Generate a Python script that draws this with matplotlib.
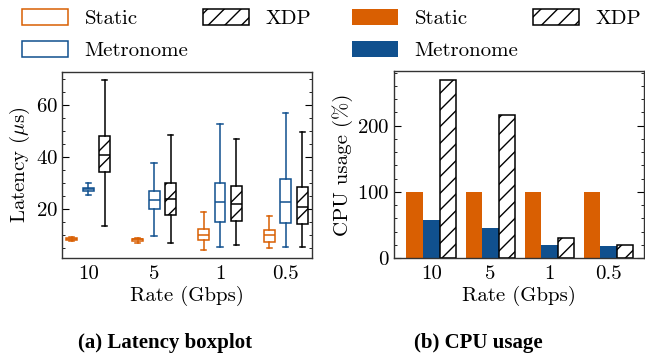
import matplotlib
matplotlib.use('Agg')
import matplotlib.pyplot as plt
from matplotlib.patches import Patch
from matplotlib.ticker import MultipleLocator

plt.rcParams['font.family'] = 'cmr10'
plt.rcParams['mathtext.fontset'] = 'cm'
plt.rcParams['axes.formatter.use_mathtext'] = True
plt.rcParams['hatch.linewidth'] = 1.0

rates = ['10', '5', '1', '0.5']
series = ['Static', 'Metronome', 'XDP']
orange = '#d95f02'
blue = '#10508e'

# latency boxplot stats (us): whislo, q1, med, q3, whishi
static_lat = [(7.5, 8.0, 8.4, 8.8, 9.3), (7.0, 7.6, 8.2, 8.5, 8.8),
              (4.2, 7.8, 10.0, 12.2, 18.8), (4.7, 7.1, 9.7, 11.9, 17.2)]
metro_lat = [(25.1, 26.9, 27.6, 28.1, 29.8), (9.5, 19.9, 23.5, 26.9, 37.4),
             (5.3, 15.0, 22.4, 29.9, 52.4), (5.2, 14.5, 22.6, 31.4, 56.9)]
xdp_lat = [(13.3, 33.9, 40.8, 48.0, 69.3), (6.9, 17.6, 23.6, 30.0, 48.2),
           (5.9, 15.2, 21.9, 28.7, 46.8), (5.2, 14.0, 20.8, 28.2, 49.6)]

# CPU usage (%)
static_cpu = [100, 100, 100, 100]
metro_cpu = [58, 46, 20, 19]
xdp_cpu = [269, 216, 30, 20]

fs = 15

fig = plt.figure(figsize=(6.45, 3.6), dpi=100)
ax1 = fig.add_axes([0.096, 0.283, 0.388, 0.517])
ax2 = fig.add_axes([0.611, 0.283, 0.388, 0.519])


def to_stats(rows):
    return [dict(whislo=r[0], q1=r[1], med=r[2], q3=r[3], whishi=r[4], fliers=[]) for r in rows]


offsets = [-0.25, 0, 0.25]
for k, (data, col) in enumerate(zip([static_lat, metro_lat, xdp_lat], [orange, blue, 'black'])):
    pos = [i + offsets[k] for i in range(len(rates))]
    bp = ax1.bxp(to_stats(data), positions=pos, widths=0.165, capwidths=0.08,
                 patch_artist=True, showfliers=False, manage_ticks=False,
                 boxprops=dict(facecolor='white', edgecolor=col, linewidth=1.1),
                 whiskerprops=dict(color=col, linewidth=1.1),
                 capprops=dict(color=col, linewidth=1.1),
                 medianprops=dict(color=col, linewidth=1.1))
    if k == 2:
        for b in bp['boxes']:
            b.set_hatch('//')

ax1.set_xlim(-0.4, 3.4)
ax1.set_ylim(1, 72.5)
ax1.set_xticks(range(len(rates)))
ax1.set_xticklabels(rates)
ax1.yaxis.set_major_locator(MultipleLocator(20))
ax1.yaxis.set_minor_locator(MultipleLocator(5))
ax1.set_ylabel(r'Latency ($\mu$s)', fontsize=fs, labelpad=3)
ax1.set_xlabel('Rate (Gbps)', fontsize=fs, labelpad=2)

w = 0.28
x = range(len(rates))
ax2.bar([i - w for i in x], static_cpu, w, color=orange, label='Static')
ax2.bar(list(x), metro_cpu, w, color=blue, label='Metronome')
ax2.bar([i + w for i in x], xdp_cpu, w, color='white', edgecolor='black',
        hatch='//', linewidth=1.1, label='XDP')
ax2.set_xlim(-0.63, 3.61)
ax2.set_ylim(0, 282)
ax2.set_xticks(list(x))
ax2.set_xticklabels(rates)
ax2.yaxis.set_major_locator(MultipleLocator(100))
ax2.yaxis.set_minor_locator(MultipleLocator(20))
ax2.set_ylabel('CPU usage (%)', fontsize=fs, labelpad=3)
ax2.set_xlabel('Rate (Gbps)', fontsize=fs, labelpad=2)

for ax in (ax1, ax2):
    ax.tick_params(axis='y', which='both', direction='in', left=True, right=True, labelsize=fs, pad=3)
    ax.tick_params(axis='y', which='major', length=5)
    ax.tick_params(axis='y', which='minor', length=2.5)
    ax.tick_params(axis='x', length=0, labelsize=fs, pad=5)
    for s in ax.spines.values():
        s.set_linewidth(1.0)
        s.set_color('#333333')

leg_kw = dict(ncol=2, loc='upper left', frameon=False, fontsize=fs, handlelength=2.2,
              handleheight=0.8, labelspacing=0.6, columnspacing=0.7, handletextpad=0.8,
              borderaxespad=0, borderpad=0)
h1 = [Patch(facecolor='white', edgecolor=orange, linewidth=1.1),
      Patch(facecolor='white', edgecolor=blue, linewidth=1.1),
      Patch(facecolor='white', edgecolor='black', hatch='//', linewidth=1.1)]
fig.legend(h1, series, bbox_to_anchor=(22 / 645, 1 - 9 / 360), **leg_kw)
h2, l2 = ax2.get_legend_handles_labels()
fig.legend(h2, l2, bbox_to_anchor=(352 / 645, 1 - 9 / 360), **leg_kw)

fig.text(165 / 645, 1 - 343 / 360, '(a) Latency boxplot', ha='center', va='center',
         fontsize=15, fontweight='bold', family='Liberation Serif')
fig.text(478 / 645, 1 - 343 / 360, '(b) CPU usage', ha='center', va='center',
         fontsize=15, fontweight='bold', family='Liberation Serif')

fig.savefig('out.png', dpi=100)
